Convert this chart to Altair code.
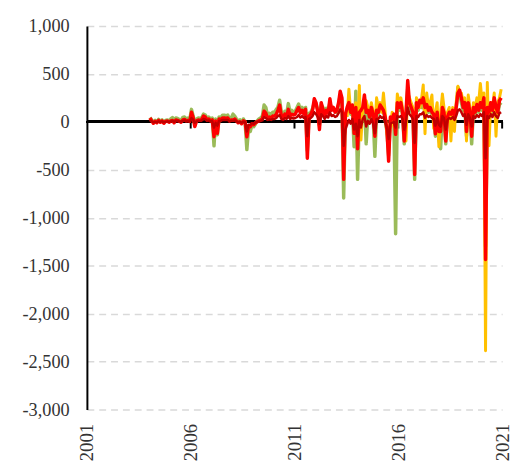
import altair as alt
import pandas as pd

# Monthly values, Jan 2004 .. Dec 2020
red = [
    40, 10, -15, 5, -10, 15, -5, 10, -15, 5, 10, -5,
    10, 15, -10, 20, 15, 5, -5, 20, 25, 10, 15, 5,
    100, 40, -50, 10, 20, 15, 25, 60, 50, 20, 30, 10,
    20, -155, 10, -120, 30, 20, 40, 40, 35, 40, 10, 20,
    20, 30, 10, -10, 0, -20, 10, 0, -155, -40, -50, -20,
    -30, -10, 0, 10, 20, 30, 110, 90, 30, 50, 40, 60,
    60, 80, 120, 175, 60, 40, 80, 50, 130, 60, 80, 70,
    80, 120, 150, 90, 120, 80, 130, -380, 60, 80, 120, 240,
    200, 100, -80, 200, 130, 60, 120, 90, 240, 120, 150, 100,
    120, 200, 320, 250, -600, 80, 150, 200, 100, 175, -120, 150,
    -280, 100, 120, 150, 280, 100, 120, 50, 150, 80, -150, 120,
    100, 175, 150, 120, 50, -80, -410, 50, 30, 80, -130, 200,
    150, 200, 100, -200, 80, 430, 200, 150, 100, -550, 200, 150,
    225, 200, 250, 150, 180, 120, 150, 100, 80, -125, 100, -100,
    -100, 150, 100, -200, 50, 100, 80, 120, 60, 150, 300, 330,
    250, 150, 200, -100, 200, 100, -150, 150, 100, 180, 120, 200,
    150, 250, -1436, 150, 100, 200, 120, 250, 150, 100, 220, 250,
]

green = [
    45, 20, -5, 15, 0, 25, 5, 20, -5, 15, 20, 5,
    30, 45, 10, 40, 35, 25, 15, 45, 50, 30, 40, 25,
    130, 60, -30, 30, 40, 35, 45, 80, 70, 40, 50, 30,
    40, -250, 30, -135, 50, 40, 70, 70, 60, 70, 30, 40,
    80, 60, 30, 10, 20, -10, 30, 0, -290, -60, -100, -30,
    -50, -20, 10, 30, 40, 60, 175, 150, 60, 90, 70, 100,
    100, 130, 150, 225, 100, 70, 110, 80, 190, 100, 120, 100,
    110, 150, 185, 120, 150, 110, 150, -300, 90, 100, 140, 200,
    180, 130, -40, 180, 150, 90, 140, 110, 200, 140, 130, 120,
    100, 180, 280, 220, -795, 60, 120, 150, 80, 130, -260, 320,
    -600, 60, 80, 100, 200, -230, 80, 20, 100, 60, -360, 80,
    80, 150, 120, 100, 20, -100, -350, 20, 0, 50, -1167, 150,
    120, 150, 80, -230, 50, 350, 150, 120, 80, -600, 150, 120,
    180, 150, 200, 100, 150, 100, 120, 80, 60, -150, 80, -180,
    -280, 120, 80, -230, 30, 80, 60, 100, 40, 120, 360, 300,
    200, 120, 150, -150, 150, 80, -230, 120, 80, 150, 100, 180,
    120, 200, -1300, 120, 80, 150, 100, 200, 120, 80, 180, 200,
]

# Jul 2013 .. Dec 2020
orange = [
    50, 340, 100, 150, -100, 200,
    -150, 380, -190, 120, 150, 220, 150, 100, 200, 100, -50, 250,
    150, 200, 100, 300, 100, -120, -200, -50, 100, -50, -80, 290,
    200, 250, 150, -150, -200, 300, 250, 200, 150, -450, 250, 200,
    150, 250, 385, -125, 300, 150, 200, 280, -70, 100, 200, -260,
    100, 290, 150, -150, 100, 150, -200, 150, -100, 200, 370, 280,
    300, 200, 250, -200, 280, 150, -100, 200, 150, 250, 200, 400,
    200, 300, -2386, 410, -250, 200, 150, 300, -150, 200, 250, 340,
]

darkred = [
    15, 5, -5, 0, -5, 5, 0, 5, -5, 0, 5, 0,
    5, 10, 0, 10, 10, 5, 0, 10, 15, 5, 10, 5,
    40, 20, -10, 5, 10, 10, 15, 30, 25, 10, 15, 5,
    5, -60, -10, -40, 10, 10, 20, 20, 20, 20, 5, 10,
    10, 15, 5, -5, 0, -10, 0, 0, -100, -30, -30, -15,
    -20, -5, 0, 5, 10, 15, 50, 40, 20, 25, 20, 30,
    30, 40, 60, 70, 30, 20, 40, 30, 60, 30, 40, 35,
    40, 50, 70, 45, 60, 40, 50, -150, 30, 40, 60, 100,
    80, 50, -20, 80, 60, 30, 60, 45, 100, 60, 70, 50,
    60, 90, 130, 100, -250, -80, -30, 20, -20, 30, -80, -20,
    -150, 20, -60, 30, 60, -50, 10, -20, 30, -20, -120, 30,
    30, 60, 40, 50, 0, -60, -180, -20, -10, 0, -60, 60,
    50, 60, 30, -80, 0, 150, 80, 60, 30, -220, 60, 50,
    80, 80, 100, 40, 70, 50, 60, 40, 30, -40, 40, -30,
    -50, 60, 40, -80, 20, 40, 30, 50, 20, 60, 120, 130,
    100, 60, 80, -30, 80, 40, -50, 60, 40, 70, 50, 80,
    60, 100, -380, 60, 40, 80, 50, 100, 60, 40, 90, 100,
]

tick_years = [2001, 2006, 2011, 2016, 2021]

dates = [f"{2004 + i // 12}-{i % 12 + 1:02d}-15" for i in range(len(red))]
orange_dates = dates[len(red) - len(orange):]

df_green = pd.DataFrame({"date": dates, "value": green})
df_red = pd.DataFrame({"date": dates, "value": red})
df_dark = pd.DataFrame({"date": dates, "value": darkred})
df_orange = pd.DataFrame({"date": orange_dates, "value": orange})
df_ticks = pd.DataFrame({"date": [f"{y}-01-01" for y in tick_years[1:]]})

FONT = "Liberation Serif, Times New Roman, serif"

x_enc = alt.X(
    "date:T",
    scale=alt.Scale(domain=[alt.DateTime(year=2001, month=1, date=1),
                            alt.DateTime(year=2021, month=1, date=1)]),
    axis=alt.Axis(
        values=[alt.DateTime(year=y, month=1, date=1) for y in tick_years],
        format="%Y", labelAngle=-90, labelAlign="right", labelBaseline="middle",
        domain=False, ticks=False, grid=False, labelPadding=14,
        labelFont=FONT, labelFontSize=19, labelColor="#333333",
    ),
    title=None,
)

y_enc = alt.Y(
    "value:Q",
    scale=alt.Scale(domain=[-3000, 1000], nice=False),
    axis=alt.Axis(
        values=list(range(-3000, 1001, 500)),
        labelExpr="replace(format(datum.value, ','), '\u2212', '-')",
        grid=True, gridDash=[7, 5], gridColor="#d9d9d9", gridWidth=1.5,
        domainColor="#000000", domainWidth=2, ticks=False, labelPadding=18,
        labelFont=FONT, labelFontSize=18.5, labelColor="#333333",
    ),
    title=None,
)

zero = alt.Chart(df_red).mark_rule(color="#000000", strokeWidth=2).encode(y=alt.datum(0))
ticks = alt.Chart(df_ticks).mark_rule(color="#000000", strokeWidth=2).encode(
    x=alt.X("date:T"), y=alt.datum(0), y2=alt.datum(-70)
)

def line(df, color, width):
    return alt.Chart(df).mark_line(color=color, strokeWidth=width, strokeJoin="round").encode(
        x=x_enc, y=y_enc
    )

chart = alt.layer(
    zero,
    ticks,
    line(df_green, "#9BBB59", 3.5),
    line(df_orange, "#FFC000", 3.0),
    line(df_red, "#FF0000", 3.5),
    line(df_dark, "#C00000", 2.5),
).properties(
    width=421, height=389,
    padding={"left": 80, "top": 15, "right": 10, "bottom": 50},
    autosize="none",
).configure_view(stroke=None)

chart.save("out.html", embed_options={"renderer": "svg", "actions": False})
